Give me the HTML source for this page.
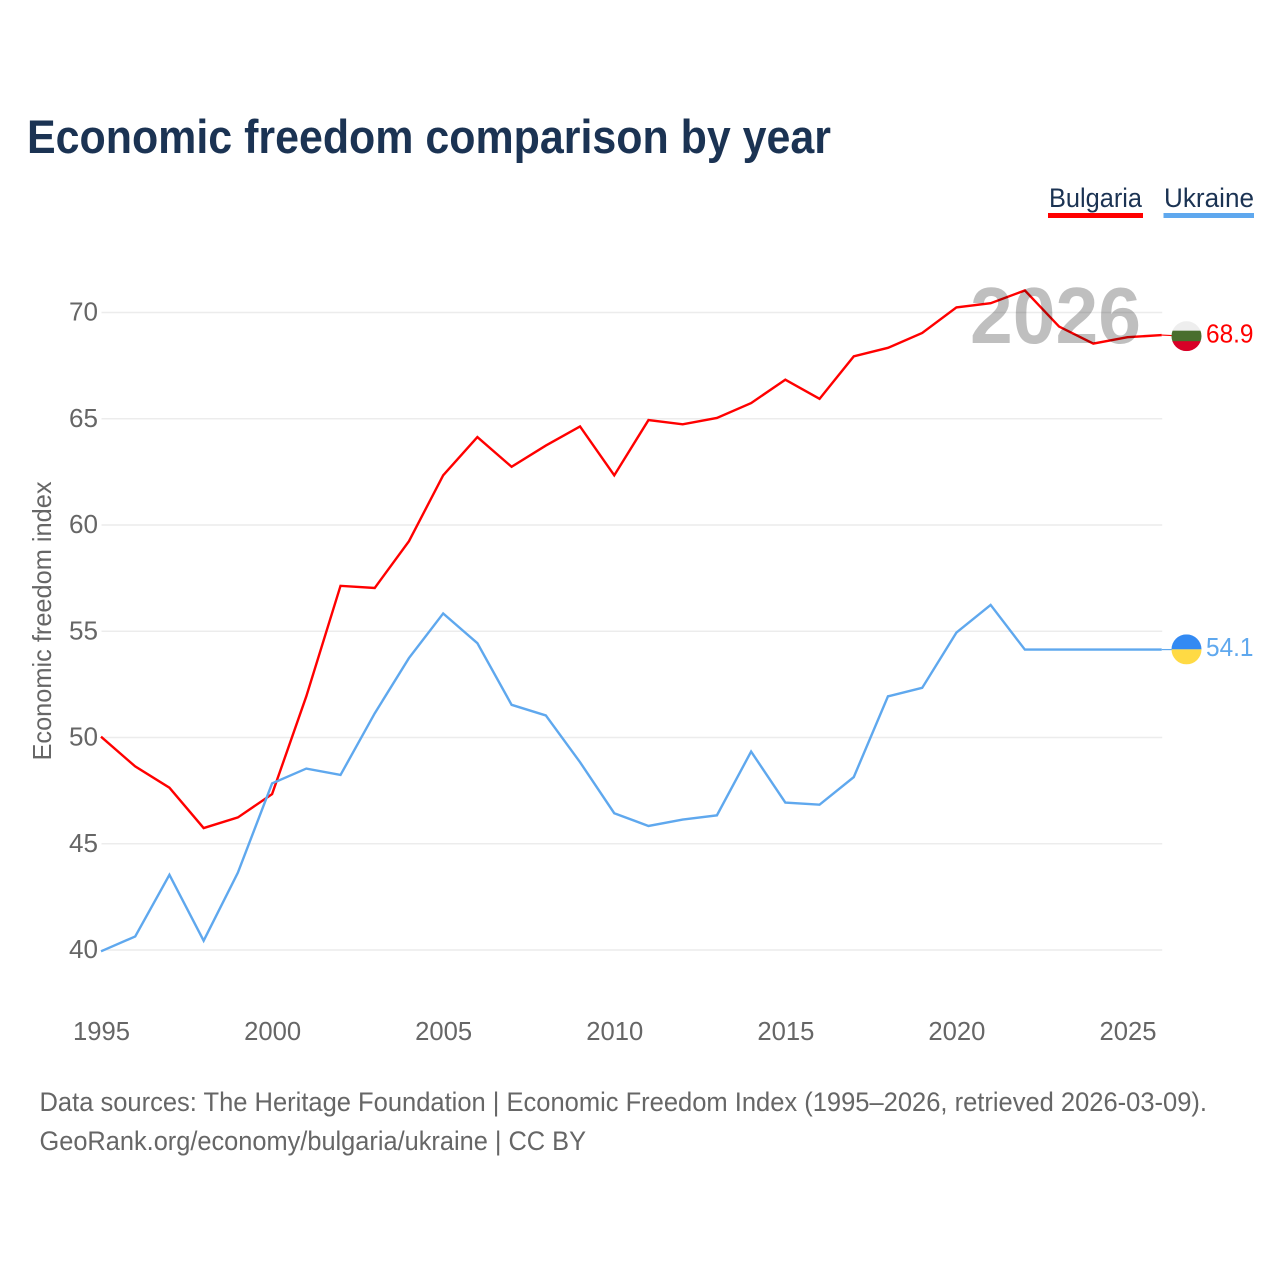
<!DOCTYPE html>
<html lang="en">
<head>
<meta charset="utf-8">
<title>Economic freedom comparison by year</title>
<style>
html,body{margin:0;padding:0;background:#fff;width:1280px;height:1280px;overflow:hidden}
svg{display:block}
text{font-family:"Liberation Sans",sans-serif}
</style>
</head>
<body>
<svg id="chart" xmlns="http://www.w3.org/2000/svg" width="1280" height="1280" viewBox="0 0 1280 1280">
  <defs>
    <clipPath id="flag-clip-bg"><circle id="clip-bg" cx="1186.5" cy="336" r="15"></circle></clipPath>
    <clipPath id="flag-clip-ua"><circle id="clip-ua" cx="1186.5" cy="649" r="15"></circle></clipPath>
  </defs>
  <text x="27" y="153" font-size="47" font-weight="700" fill="#1b3353" textLength="804" lengthAdjust="spacingAndGlyphs">Economic freedom comparison by year</text>
  <text x="1049" y="207" font-size="27" fill="#1b3353" textLength="93" lengthAdjust="spacingAndGlyphs">Bulgaria</text>
  <rect x="1048" y="213" width="95" height="5" fill="#ff0000"></rect>
  <text x="1164" y="207" font-size="27" fill="#1b3353" textLength="90" lengthAdjust="spacingAndGlyphs">Ukraine</text>
  <rect x="1163.5" y="213" width="90.5" height="5" fill="#5fa8ee"></rect>
  <g id="grid"></g>
  <g id="y-ticks"></g>
  <g id="x-ticks"></g>
  <text transform="translate(51,621) rotate(-90)" text-anchor="middle" font-size="26" fill="#666666" textLength="279" lengthAdjust="spacingAndGlyphs">Economic freedom index</text>
  <g id="series" transform="translate(-0.5,-0.8)"></g>
  <text x="970" y="343" font-size="80" font-weight="700" fill="#000000" fill-opacity="0.25" textLength="171" lengthAdjust="spacingAndGlyphs">2026</text>
  <g id="end-markers"></g>
  <text x="39.5" y="1111" font-size="27" fill="#666666" textLength="1167.5" lengthAdjust="spacingAndGlyphs">Data sources: The Heritage Foundation | Economic Freedom Index (1995–2026, retrieved 2026-03-09).</text>
  <text x="39.5" y="1150" font-size="27" fill="#666666" textLength="546.5" lengthAdjust="spacingAndGlyphs">GeoRank.org/economy/bulgaria/ukraine | CC BY</text>
</svg>
<script>
const years = [1995,1996,1997,1998,1999,2000,2001,2002,2003,2004,2005,2006,2007,2008,2009,2010,2011,2012,2013,2014,2015,2016,2017,2018,2019,2020,2021,2022,2023,2024,2025,2026];
const bulgaria = [50.0,48.6,47.6,45.7,46.2,47.3,51.9,57.1,57.0,59.2,62.3,64.1,62.7,63.7,64.6,62.3,64.9,64.7,65.0,65.7,66.8,65.9,67.9,68.3,69.0,70.2,70.4,71.0,69.3,68.5,68.8,68.9];
const ukraine = [39.9,40.6,43.5,40.4,43.6,47.8,48.5,48.2,51.1,53.7,55.8,54.4,51.5,51.0,48.8,46.4,45.8,46.1,46.3,49.3,46.9,46.8,48.1,51.9,52.3,54.9,56.2,54.1,54.1,54.1,54.1,54.1];
const yTickValues = [40,45,50,55,60,65,70];
const xTickValues = [1995,2000,2005,2010,2015,2020,2025];

const NS = 'http://www.w3.org/2000/svg';
function xScale(year){ return 101.5 + (year - 1995) * (1128 - 101.5) / 30; }
function yScale(value){ return 950 - (value - 40) * (950 - 312.5) / 30; }
function make(tag, parent, attrs, content){
  const el = document.createElementNS(NS, tag);
  for (const k in attrs) el.setAttribute(k, attrs[k]);
  if (content !== undefined) el.textContent = content;
  parent.appendChild(el);
  return el;
}

const grid = document.getElementById('grid');
const yTicks = document.getElementById('y-ticks');
yTickValues.forEach(function(v){
  const line = make('line', grid, {x1: xScale(1995), x2: xScale(2026), y1: yScale(v), y2: yScale(v), stroke: '#ececec', 'stroke-width': 1.5});
  
  
  const label = make('text', yTicks, {x: 98, y: yScale(v) + 8, 'text-anchor': 'end', 'font-size': 26, fill: '#666666', textLength: 29, lengthAdjust: 'spacingAndGlyphs'}, String(v));
  
  
});

const xTicks = document.getElementById('x-ticks');
xTickValues.forEach(function(year){
  const label = make('text', xTicks, {x: xScale(year), y: 1040, 'text-anchor': 'middle', 'font-size': 26, fill: '#666666', textLength: 57, lengthAdjust: 'spacingAndGlyphs'}, String(year));
  
  
});

function pathFor(values){
  return values.map(function(v, i){
    return (i ? 'L' : 'M') + xScale(years[i]).toFixed(2) + ' ' + yScale(v).toFixed(2);
  }).join(' ');
}
const seriesGroup = document.getElementById('series');
const bgLine = make('path', seriesGroup, {d: pathFor(bulgaria), fill: 'none', stroke: '#ff0000', 'stroke-width': 2.4, 'stroke-linejoin': 'miter'});


const uaLine = make('path', seriesGroup, {d: pathFor(ukraine), fill: 'none', stroke: '#5fa8ee', 'stroke-width': 2.4, 'stroke-linejoin': 'miter'});



const markers = document.getElementById('end-markers');
const lastYear = years[years.length - 1];
const bgLast = bulgaria[bulgaria.length - 1];
const uaLast = ukraine[ukraine.length - 1];
const bgY = yScale(bgLast);
const uaY = yScale(uaLast);

const bgLeader = make('line', markers, {x1: xScale(lastYear) - 0.5, x2: 1172, y1: bgY - 0.8, y2: bgY - 0.3, stroke: '#ff0000', 'stroke-width': 1.2});


const uaLeader = make('line', markers, {x1: xScale(lastYear) - 0.5, x2: 1172, y1: uaY - 0.8, y2: uaY - 0.8, stroke: '#5fa8ee', 'stroke-width': 1.2});



const cx = 1186.5;
const bgCy = bgY + 0.3;
const uaCy = uaY - 1;
document.getElementById('clip-bg').setAttribute('cy', bgCy);
document.getElementById('clip-ua').setAttribute('cy', uaCy);

const bgFlag = make('g', markers, {'clip-path': 'url(#flag-clip-bg)'});


make('rect', bgFlag, {x: cx - 15, y: bgCy - 15, width: 30, height: 10, fill: '#eeeeee'});
make('rect', bgFlag, {x: cx - 15, y: bgCy - 5.5, width: 30, height: 11, fill: '#496e2d'});
make('rect', bgFlag, {x: cx - 15, y: bgCy + 5, width: 30, height: 10, fill: '#d80027'});

const uaFlag = make('g', markers, {'clip-path': 'url(#flag-clip-ua)'});


make('rect', uaFlag, {x: cx - 15, y: uaCy - 15, width: 30, height: 15, fill: '#338af3'});
make('rect', uaFlag, {x: cx - 15, y: uaCy, width: 30, height: 15, fill: '#ffda44'});

const bgValue = make('text', markers, {x: 1206, y: bgY + 6.5, 'font-size': 26, fill: '#ff0000', textLength: 47.5, lengthAdjust: 'spacingAndGlyphs'}, bgLast.toFixed(1));


const uaValue = make('text', markers, {x: 1206, y: uaY + 5.5, 'font-size': 26, fill: '#5fa8ee', textLength: 47.5, lengthAdjust: 'spacingAndGlyphs'}, uaLast.toFixed(1));


</script>
</body>
</html>
